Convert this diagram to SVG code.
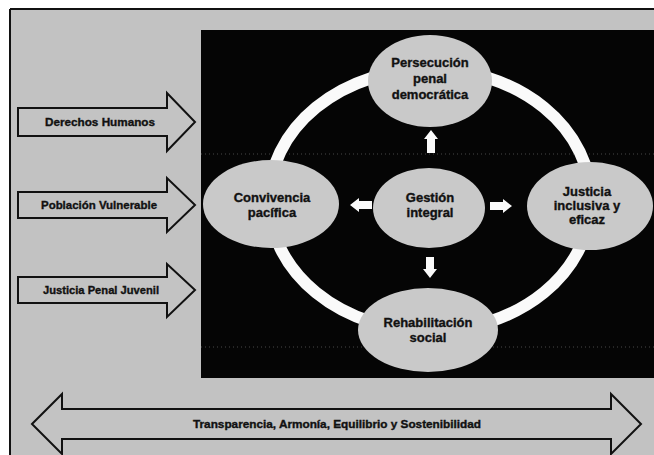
<svg xmlns="http://www.w3.org/2000/svg" width="654" height="455" viewBox="0 0 654 455">
  <defs>
    <style>
      .bg { fill: #c2c2c2; }
      .panel { fill: #050505; }
      .node { fill: #c9c9c9; }
      .lbl { font-family: "Liberation Sans", Arial, sans-serif; font-weight: bold; fill: #111; stroke: #111; stroke-width: 0.35; text-anchor: middle; }
      .nt { font-size: 13px; }
      .at { font-size: 11px; }
      .bar { fill: #c3c3c3; stroke: #111; stroke-width: 2; stroke-linejoin: miter; }
      .ring { fill: none; stroke: #fafafa; stroke-width: 12; }
      .wa { fill: #fafafa; }
      .scan { stroke: #777; stroke-width: 1; stroke-dasharray: 1 3; opacity: 0.6; }
    </style>
  </defs>

  <g id="frame">
    <rect x="0" y="0" width="654" height="455" fill="#ffffff"/>
    <rect class="bg" x="10" y="9" width="644" height="446"/>
    <line x1="10" y1="9" x2="654" y2="9" stroke="#111" stroke-width="2"/>
    <line x1="10" y1="9" x2="10" y2="455" stroke="#111" stroke-width="2"/>
  </g>

  <g id="panel">
    <rect class="panel" x="201" y="30" width="453" height="348"/>
    <line class="scan" x1="201" y1="154" x2="654" y2="154"/>
    <line class="scan" x1="201" y1="347" x2="654" y2="347"/>
  </g>

  <g id="connectors">
    <ellipse class="ring" cx="430" cy="200" rx="161" ry="131"/>
    <polygon class="wa" points="431,130 438,139 435,139 435,153 427,153 427,139 424,139"/>
    <polygon class="wa" points="350,205 359,198 359,201 372,201 372,209 359,209 359,212"/>
    <polygon class="wa" points="512,206 503,199 503,202 490,202 490,210 503,210 503,213"/>
    <polygon class="wa" points="430,278 423,269 426,269 426,257 434,257 434,269 437,269"/>
  </g>

  <g id="node-persecucion">
    <ellipse class="node" cx="430" cy="81" rx="62" ry="46"/>
    <text class="lbl nt" x="430" y="67">Persecución</text>
    <text class="lbl nt" x="430" y="83">penal</text>
    <text class="lbl nt" x="430" y="99">democrática</text>
  </g>

  <g id="node-convivencia">
    <ellipse class="node" cx="271" cy="204" rx="68" ry="44"/>
    <text class="lbl nt" x="272" y="202">Convivencia</text>
    <text class="lbl nt" x="272" y="217">pacífica</text>
  </g>

  <g id="node-gestion">
    <ellipse class="node" cx="429" cy="208" rx="56" ry="40"/>
    <text class="lbl nt" x="430" y="202">Gestión</text>
    <text class="lbl nt" x="430" y="217">integral</text>
  </g>

  <g id="node-justicia">
    <ellipse class="node" cx="590" cy="206" rx="63" ry="44"/>
    <text class="lbl nt" x="587" y="196">Justicia</text>
    <text class="lbl nt" x="587" y="210">inclusiva y</text>
    <text class="lbl nt" x="587" y="224">eficaz</text>
  </g>

  <g id="node-rehabilitacion">
    <ellipse class="node" cx="428" cy="330" rx="70" ry="42"/>
    <text class="lbl nt" x="428" y="327">Rehabilitación</text>
    <text class="lbl nt" x="428" y="342">social</text>
  </g>

  <g id="arrow-derechos">
    <polygon class="bar" points="18,108 167,108 167,93 195,122 167,151 167,136 18,136"/>
    <text class="lbl at" x="100" y="126" textLength="110" lengthAdjust="spacingAndGlyphs">Derechos Humanos</text>
  </g>

  <g id="arrow-poblacion">
    <polygon class="bar" points="18,192 167,192 167,178 195,205 167,232 167,218 18,218"/>
    <text class="lbl at" x="99" y="209" textLength="116" lengthAdjust="spacingAndGlyphs">Población Vulnerable</text>
  </g>

  <g id="arrow-justicia-juvenil">
    <polygon class="bar" points="18,277 167,277 167,264 195,290 167,317 167,303 18,303"/>
    <text class="lbl at" x="101" y="294" textLength="116" lengthAdjust="spacingAndGlyphs">Justicia Penal Juvenil</text>
  </g>

  <g id="arrow-transparencia">
    <polygon class="bar" points="32,424 62,394 62,409 611,409 611,394 641,424 611,454 611,439 62,439 62,454"/>
    <text class="lbl" font-size="10.5" x="337" y="428" textLength="288" lengthAdjust="spacingAndGlyphs">Transparencia, Armonía, Equilibrio y Sostenibilidad</text>
  </g>
</svg>
